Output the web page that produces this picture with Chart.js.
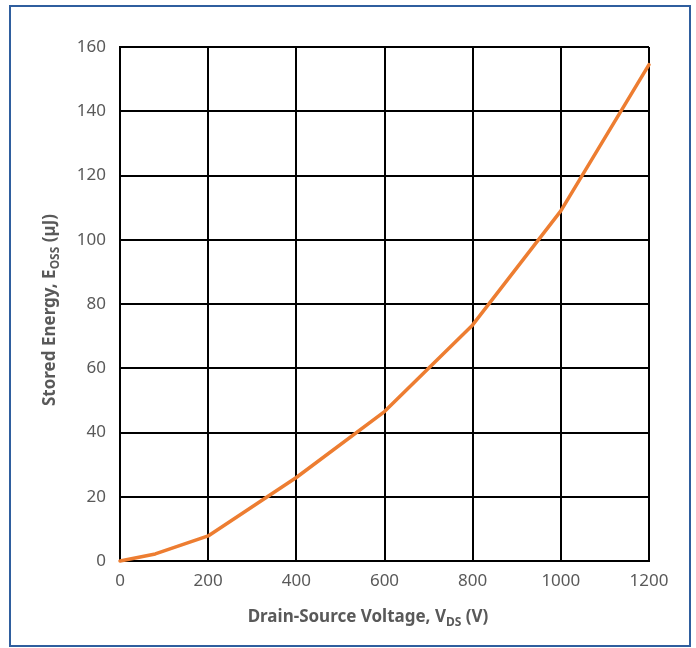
<!DOCTYPE html>
<html>
<head>
<meta charset="utf-8">
<script src="https://cdn.jsdelivr.net/npm/chart.js@4.4.1/dist/chart.umd.min.js"></script>
<style>
    html, body { margin: 0; padding: 0; background: #fff; }
    #wrap { position: relative; width: 696px; height: 648px; }
    #frame {
        position: absolute; left: 9px; top: 5px; width: 678px; height: 638px;
        border: 2px solid #2f5e9e; box-sizing: content-box; pointer-events: none;
    }
    canvas { position: absolute; left: 0; top: 0; }
</style>
</head>
<body>
<div id="wrap">
    <canvas id="chart" width="696" height="648"></canvas>
    <div id="frame"></div>
</div>
<script>
// Values
const voltage = [0, 80, 200, 400, 600, 800, 1000, 1200];
const energy = [0, 2.2, 7.8, 26, 46.5, 73.5, 109, 154.5];
const xTicks = [0, 200, 400, 600, 800, 1000, 1200];
const yTicks = [0, 20, 40, 60, 80, 100, 120, 140, 160];

const xTitle = [["Drain-Source Voltage, V", false], ["DS", true], [" (V)", false]];
const yTitle = [["Stored Energy, E", false], ["OSS", true], [" (µJ)", false]];

const textGray = "#595959";
const fontFamily = "'Noto Sans', 'DejaVu Sans', sans-serif";

// draws a label made of normal and subscript pieces, centred on (0,0)
function drawRichText(ctx, parts, size) {
    const subSize = Math.round(size * 0.68);
    const widths = parts.map(([t, sub]) => {
        ctx.font = `bold ${sub ? subSize : size}px ${fontFamily}`;
        return ctx.measureText(t).width;
    });
    const total = widths.reduce((a, b) => a + b, 0);
    let x = -total / 2;
    ctx.textBaseline = "middle";
    ctx.textAlign = "left";
    parts.forEach(([t, sub], i) => {
        ctx.font = `bold ${sub ? subSize : size}px ${fontFamily}`;
        ctx.fillText(t, x, sub ? size * 0.3 : 0);
        x += widths[i];
    });
}

const axisTitles = {
    id: "axisTitles",
    afterDraw(chart) {
        const { ctx } = chart;
        ctx.save();
        ctx.fillStyle = textGray;
        ctx.translate(368, 617);
        drawRichText(ctx, xTitle, 17);
        ctx.restore();

        ctx.save();
        ctx.fillStyle = textGray;
        ctx.translate(50, 310);
        ctx.rotate(-Math.PI / 2);
        drawRichText(ctx, yTitle, 17);
        ctx.restore();
    },
};

new Chart(document.getElementById("chart"), {
    type: "line",
    data: {
        datasets: [
            {
                data: voltage.map((v, i) => ({ x: v, y: energy[i] })),
                borderColor: "#ed7d31",
                borderWidth: 3.5,
                pointRadius: 0,
                tension: 0,
                borderCapStyle: "round",
                borderJoinStyle: "round",
                clip: false,
            },
        ],
    },
    options: {
        responsive: false,
        animation: false,
        devicePixelRatio: 1,
        layout: { padding: { top: 47, right: 47, left: 0, bottom: 0 } },
        plugins: { legend: { display: false }, tooltip: { enabled: false } },
        scales: {
            x: {
                type: "linear",
                min: 0,
                max: 1200,
                afterBuildTicks: (scale) => {
                    scale.ticks = xTicks.map((v) => ({ value: v }));
                },
                afterFit: (scale) => {
                    scale.height = 87;
                },
                grid: { color: "#000", lineWidth: 2, drawTicks: false },
                border: { color: "#000", width: 2 },
                ticks: {
                    color: textGray,
                    padding: 10,
                    font: { size: 17, family: fontFamily },
                    maxRotation: 0,
                    callback: (v) => String(v),
                },
            },
            y: {
                min: 0,
                max: 160,
                afterBuildTicks: (scale) => {
                    scale.ticks = yTicks.map((v) => ({ value: v }));
                },
                afterFit: (scale) => {
                    scale.width = 120;
                },
                grid: { color: "#000", lineWidth: 2, drawTicks: false },
                border: { color: "#000", width: 2 },
                ticks: {
                    color: textGray,
                    padding: 14,
                    font: { size: 17, family: fontFamily },
                    callback: (v) => String(v),
                },
            },
        },
    },
    plugins: [axisTitles],
});
</script>
</body>
</html>
